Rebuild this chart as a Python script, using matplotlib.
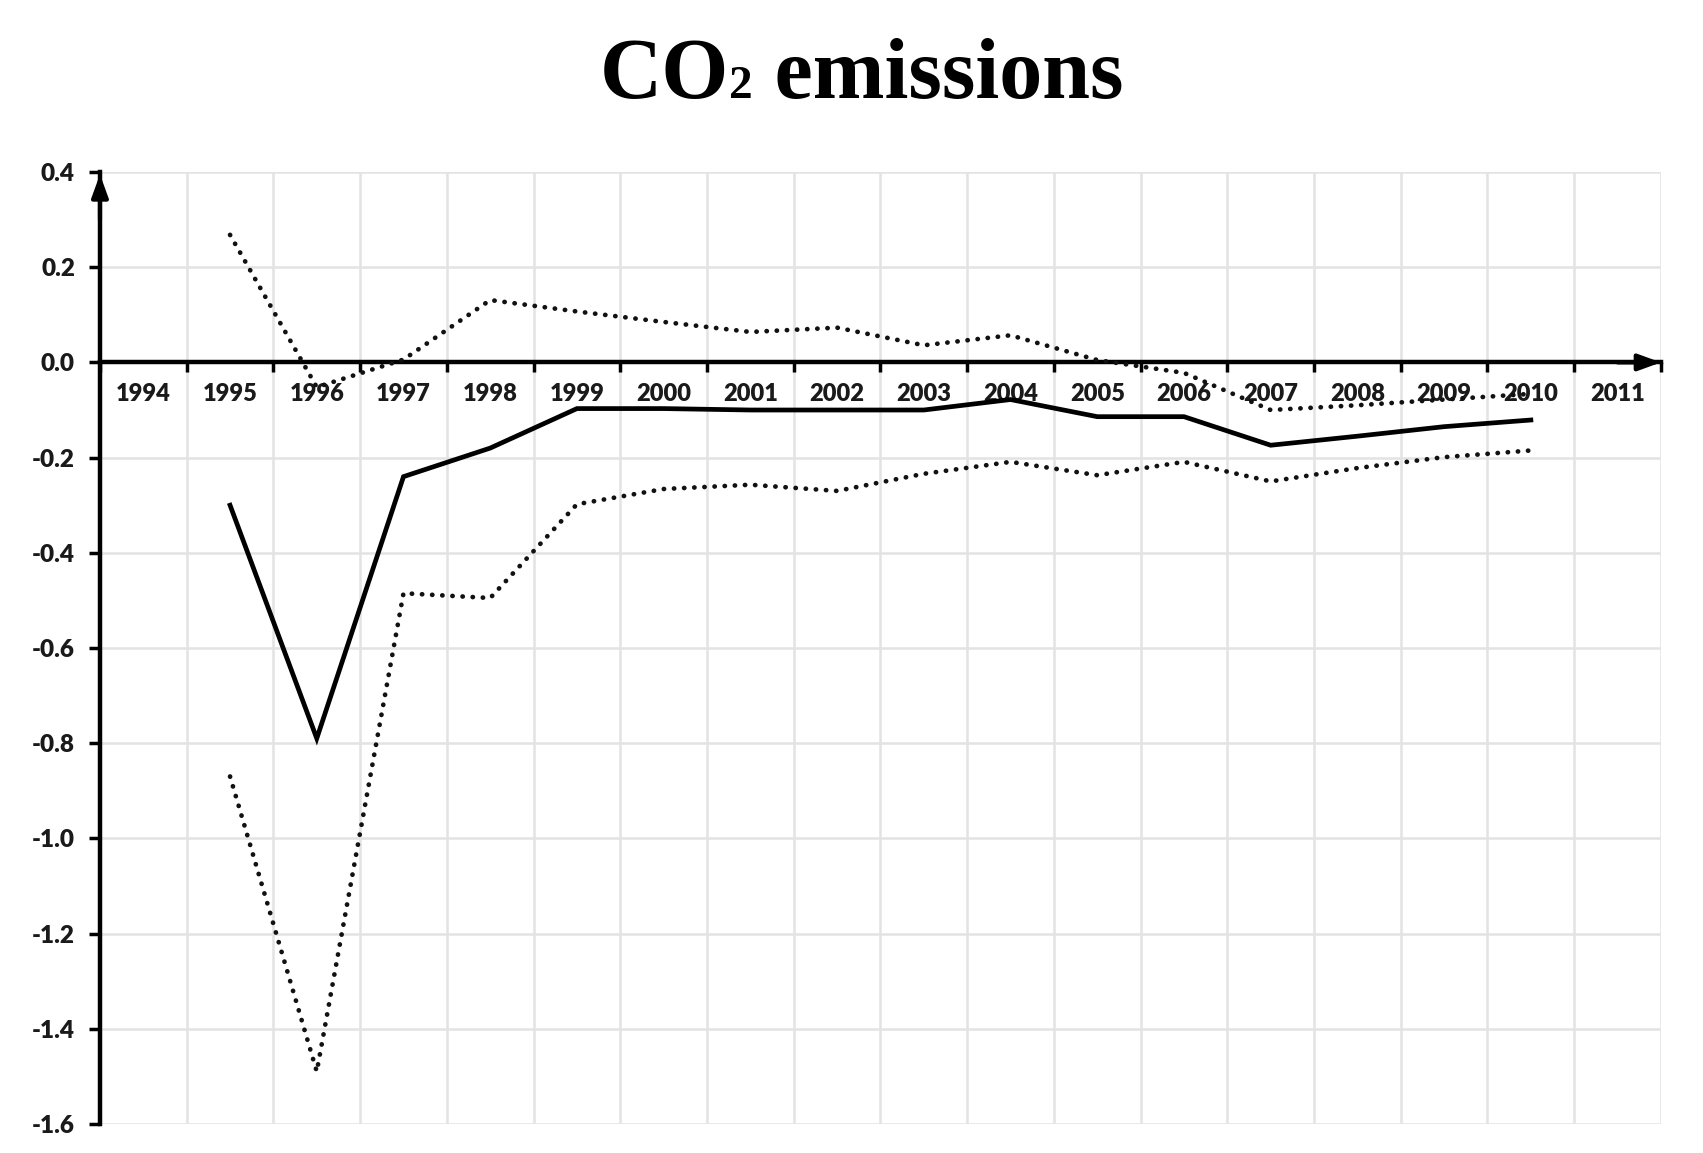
import matplotlib
matplotlib.use("Agg")
import matplotlib.pyplot as plt
from matplotlib.ticker import FixedLocator, FixedFormatter

# ---------------- data ----------------
axis_years = [str(y) for y in range(1994, 2012)]
data_years = list(range(1995, 2011))
central = [-0.30, -0.79, -0.24, -0.18, -0.097, -0.097, -0.10, -0.10, -0.10,
           -0.078, -0.114, -0.114, -0.174, -0.155, -0.135, -0.121]
upper = [0.268, -0.052, 0.006, 0.131, 0.107, 0.085, 0.064, 0.073, 0.036,
         0.057, 0.005, -0.022, -0.100, -0.090, -0.078, -0.066]
lower = [-0.87, -1.49, -0.485, -0.495, -0.298, -0.266, -0.257, -0.27, -0.234,
         -0.209, -0.237, -0.209, -0.25, -0.222, -0.199, -0.185]
y_ticks = [0.4, 0.2, 0.0, -0.2, -0.4, -0.6, -0.8, -1.0, -1.2, -1.4, -1.6]
title_parts = ["CO", "2", " emissions"]

plt.rcParams['font.family'] = ['Lato', 'DejaVu Sans']
plt.rcParams['font.weight'] = 'heavy'

fig = plt.figure(figsize=(17.03, 11.53), dpi=100)
ax = fig.add_axes([0.0587, 0.0252, 0.9166, 0.8256])

first = int(axis_years[0])
xpos = [y - first for y in data_years]

ax.plot(xpos, central, color='black', lw=3.4, solid_joinstyle='miter', zorder=4)
dot = (0, (0.05, 2.1))
ax.plot(xpos, upper, color='#111111', lw=3.4, linestyle=dot,
        dash_capstyle='round', zorder=4)
ax.plot(xpos, lower, color='#111111', lw=3.4, linestyle=dot,
        dash_capstyle='round', zorder=4)

n = len(axis_years)
ax.set_xlim(-0.5, n - 0.5)
ax.set_ylim(-1.6, 0.4)

# x ticks: labels at category centres, small tick marks at boundaries
ax.xaxis.set_major_locator(FixedLocator(list(range(n))))
ax.xaxis.set_major_formatter(FixedFormatter(axis_years))
ax.xaxis.set_minor_locator(FixedLocator([i + 0.5 for i in range(-1, n)]))
ax.tick_params(axis='x', which='major', length=0, pad=15, labelsize=17,
               labelcolor='#1a1a1a')
ax.tick_params(axis='x', which='minor', length=7, width=2.5, direction='out',
               color='black')
ax.set_yticks(y_ticks)
ax.set_yticklabels([f"{v:.1f}" for v in y_ticks])
ax.tick_params(axis='y', which='major', length=8, width=2.5, direction='out',
               pad=10, labelsize=17.5, labelcolor='#1a1a1a')

# grid
ax.grid(which='minor', axis='x', color='#e3e3e3', lw=1.8, zorder=0)
ax.grid(which='major', axis='y', color='#e3e3e3', lw=1.8, zorder=0)
ax.grid(which='major', axis='x', visible=False)
ax.set_axisbelow(True)

# spines
ax.spines['top'].set_visible(False)
ax.spines['right'].set_visible(False)
ax.spines['bottom'].set_position(('data', 0))
ax.spines['bottom'].set_linewidth(3.2)
ax.spines['left'].set_linewidth(3.2)
ax.spines['bottom'].set_zorder(3)
ax.spines['left'].set_zorder(3)

# arrows
ax.annotate('', xy=(n - 0.5, 0), xytext=(n - 1.0, 0),
            arrowprops=dict(arrowstyle='-|>,head_length=0.55,head_width=0.2',
                            color='black', lw=3, shrinkA=0, shrinkB=0,
                            mutation_scale=25),
            annotation_clip=False, zorder=5)
ax.annotate('', xy=(-0.5, 0.395), xytext=(-0.5, 0.3),
            arrowprops=dict(arrowstyle='-|>,head_length=0.55,head_width=0.2',
                            color='black', lw=3, shrinkA=0, shrinkB=0,
                            mutation_scale=25),
            annotation_clip=False, zorder=5)

# title composed of pieces: "CO" + small baseline "2" + " emissions"
renderer = fig.canvas.get_renderer()
sizes = [62, 34, 62]
widths = []
for part, sz in zip(title_parts, sizes):
    t = fig.text(0, 0, part, fontsize=sz, fontweight='bold',
                 family='Liberation Serif')
    widths.append(t.get_window_extent(renderer).width)
    t.remove()
total = sum(widths)
x0 = 0.506 * fig.bbox.width - total / 2.0
base_y = 0.915
xc = x0
for part, sz, w in zip(title_parts, sizes, widths):
    fig.text(xc / fig.bbox.width, base_y, part, fontsize=sz, fontweight='bold',
             family='Liberation Serif', ha='left', va='baseline')
    xc += w

fig.savefig('out.png', dpi=100)
